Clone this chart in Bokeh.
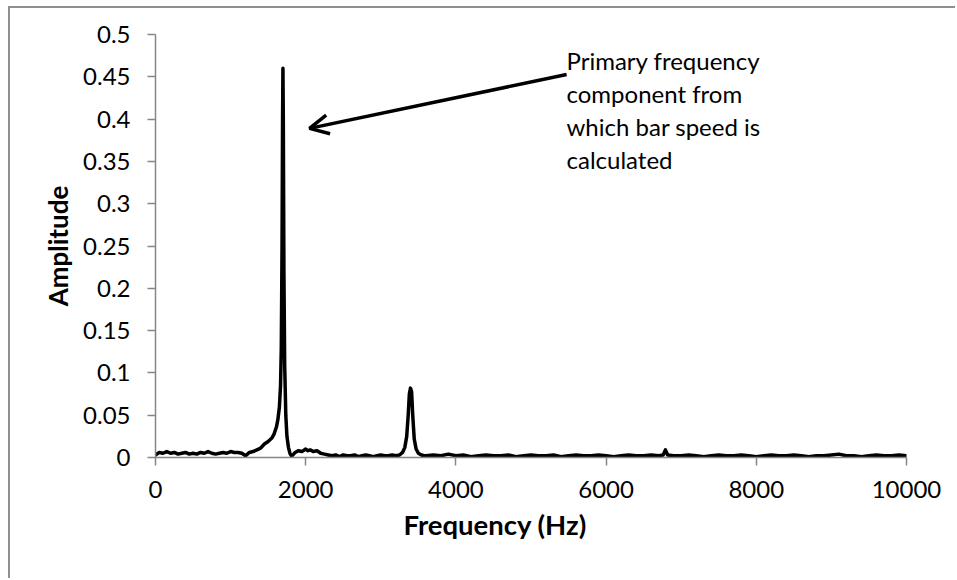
from bokeh.plotting import figure
from bokeh.models import Range1d, FixedTicker, Arrow, OpenHead, Title
from bokeh.core.properties import value
from bokeh.embed import file_html
from bokeh.resources import INLINE

# ---- data ----
freq_hz = [
    0, 50, 100, 150, 200, 250, 300, 350, 400, 450, 500, 550, 600, 650, 700, 750,
    800, 850, 900, 950, 1000, 1050, 1100, 1150, 1200, 1250, 1300,
    1350, 1400, 1450, 1500, 1550, 1580, 1610, 1630, 1650, 1665, 1675, 1685, 1692,
    1697, 1702, 1710, 1720, 1735, 1750, 1770, 1790, 1810, 1830, 1860, 1900, 1950,
    2000, 2030, 2060, 2100, 2150, 2200, 2250, 2300,
    2350, 2400, 2450, 2500, 2550, 2600, 2650, 2700, 2750, 2800, 2850, 2900, 2950,
    3000, 3050, 3100, 3150, 3200, 3250,
    3290, 3320, 3345, 3365, 3380, 3395, 3410, 3425, 3445, 3470, 3500, 3540, 3580,
    3600, 3700, 3800, 3900, 4000, 4100, 4200, 4300, 4400, 4500, 4600, 4700, 4800,
    4900, 5000, 5100, 5200, 5300, 5400, 5500, 5600, 5700, 5800, 5900, 6000, 6100,
    6200, 6300, 6400, 6500, 6600, 6700, 6760, 6790, 6820, 6900, 7000, 7100, 7200,
    7300, 7400, 7500, 7600, 7700, 7800, 7900, 8000, 8100, 8200, 8300, 8400, 8500,
    8600, 8700, 8800, 8900, 9000, 9100, 9200, 9300, 9400, 9500, 9600, 9700, 9800,
    9900, 10000,
]
amplitude = [
    0.003, 0.006, 0.005, 0.007, 0.005, 0.006, 0.004, 0.005, 0.006, 0.004, 0.005,
    0.004, 0.006, 0.005, 0.007, 0.005, 0.004, 0.005, 0.006, 0.005, 0.007, 0.006,
    0.006, 0.005, 0.002, 0.006, 0.007,
    0.009, 0.011, 0.016, 0.019, 0.023, 0.028, 0.036, 0.045, 0.060, 0.085, 0.130,
    0.250, 0.400, 0.460, 0.400, 0.220, 0.110, 0.050, 0.025, 0.012, 0.005, 0.002,
    0.003, 0.006, 0.008, 0.007, 0.010, 0.008, 0.009, 0.007, 0.008, 0.005, 0.004,
    0.003,
    0.002, 0.003, 0.001, 0.003, 0.002, 0.002, 0.003, 0.001, 0.002, 0.003, 0.002,
    0.001, 0.002, 0.003, 0.002, 0.002, 0.003, 0.002, 0.003,
    0.006, 0.012, 0.025, 0.050, 0.075, 0.082, 0.078, 0.050, 0.022, 0.010, 0.005,
    0.003, 0.002,
    0.002, 0.003, 0.002, 0.004, 0.002, 0.003, 0.001, 0.002, 0.003, 0.002, 0.002,
    0.003, 0.001, 0.002, 0.003, 0.002, 0.002, 0.003, 0.001, 0.002, 0.003, 0.002,
    0.002, 0.003, 0.002, 0.001, 0.002, 0.003, 0.002, 0.002, 0.003, 0.002, 0.003,
    0.009, 0.003, 0.002, 0.002, 0.003, 0.002, 0.001, 0.002, 0.003, 0.002, 0.002,
    0.003, 0.002, 0.001, 0.002, 0.003, 0.002, 0.002, 0.003, 0.002, 0.001, 0.002,
    0.002, 0.003, 0.004, 0.002, 0.002, 0.001, 0.002, 0.003, 0.002, 0.002, 0.003,
    0.002,
]

x_ticks = [0, 2000, 4000, 6000, 8000, 10000]
y_ticks = [0, 0.05, 0.1, 0.15, 0.2, 0.25, 0.3, 0.35, 0.4, 0.45, 0.5]
y_tick_labels = ["0", "0.05", "0.1", "0.15", "0.2", "0.25", "0.3", "0.35",
                 "0.4", "0.45", "0.5"]

x_title = "Frequency (Hz)"
y_title = "Amplitude"

note_lines = ["Primary frequency", "component from", "which bar speed is",
              "calculated"]
note_x = [5473, 5473, 5473, 5473]
note_y = [0.4692, 0.4299, 0.3912, 0.3518]
arrow_from = (5474, 0.4527)
arrow_to = (2051, 0.389)

FONT = "Lato"
AXIS_GREY = "#868686"

p = figure(
    width=947, height=572,
    x_range=Range1d(0, 10000), y_range=Range1d(0, 0.5),
    output_backend="svg", toolbar_location=None,
    min_border_left=145, min_border_right=51,
    min_border_top=26, min_border_bottom=123,
)
p.margin = (6, 0, 0, 8)
p.styles = {"border-left": "2px solid #8f8f8f", "border-top": "2px solid #8f8f8f"}
p.outline_line_color = None
p.xgrid.grid_line_color = None
p.ygrid.grid_line_color = None
p.background_fill_color = "white"
p.border_fill_color = "white"

p.line(freq_hz, amplitude, line_color="black", line_width=3.5,
       line_join="round", line_cap="round")

for ax in (p.xaxis[0], p.yaxis[0]):
    ax.axis_line_color = AXIS_GREY
    ax.axis_line_width = 1.5
    ax.major_tick_line_color = AXIS_GREY
    ax.major_tick_line_width = 1.5
    ax.major_tick_out = 8
    ax.major_tick_in = 0
    ax.minor_tick_line_color = None
    ax.major_label_text_font = FONT
    ax.major_label_text_font_size = "24px"
    ax.major_label_text_color = "black"
    ax.axis_label_text_font = FONT
    ax.axis_label_text_font_size = "26px"
    ax.axis_label_text_font_style = "bold"
    ax.axis_label_text_color = "black"

p.xaxis[0].ticker = FixedTicker(ticks=x_ticks)
p.yaxis[0].ticker = FixedTicker(ticks=y_ticks)
p.yaxis[0].major_label_overrides = {t: s for t, s in zip(y_ticks, y_tick_labels)}
p.yaxis[0].axis_label = y_title
p.xaxis[0].major_label_standoff = 15
p.yaxis[0].major_label_standoff = 17
p.yaxis[0].axis_label_standoff = 6

p.add_layout(Title(text=x_title, align="left", offset=248, standoff=10,
                   text_font=FONT, text_font_size="27.5px",
                   text_font_style="bold", text_color="black"), "below")

p.text(note_x, note_y, text=note_lines, text_font=value(FONT),
       text_font_size="24px", text_color="black", text_align="left",
       text_baseline="alphabetic")

p.add_layout(Arrow(end=OpenHead(size=19, line_width=3.5, line_color="black"),
                   x_start=arrow_from[0], y_start=arrow_from[1],
                   x_end=arrow_to[0], y_end=arrow_to[1],
                   line_width=3.5, line_color="black"))

open("out.html", "w").write(file_html(p, INLINE))
